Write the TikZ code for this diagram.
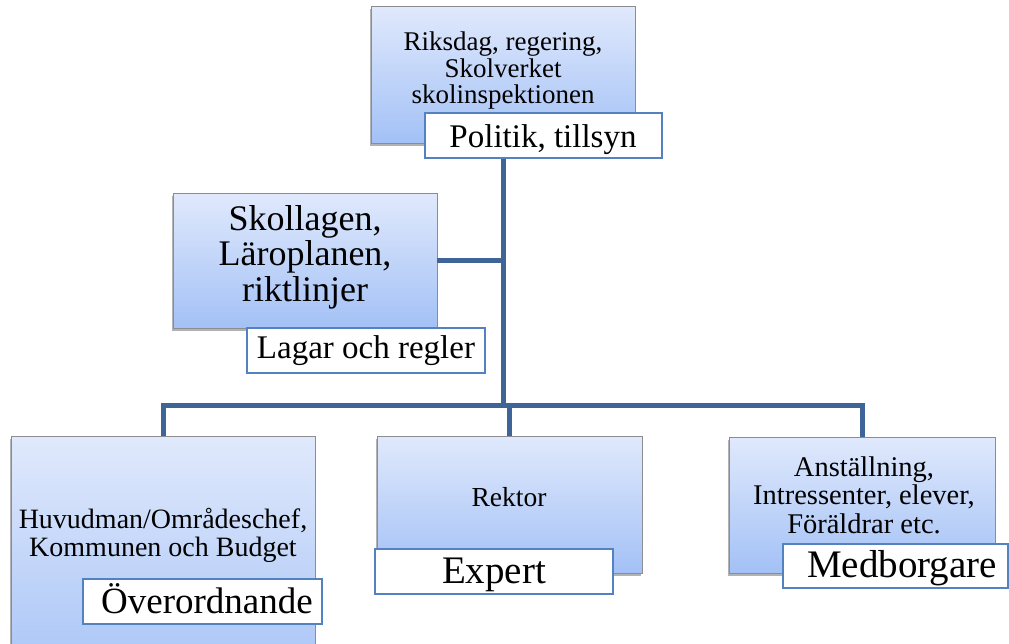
\documentclass[tikz,border=0pt]{standalone}
\usepackage{fontspec}
\setmainfont{Liberation Serif}
\usetikzlibrary{shadows}
\definecolor{boxtop}{RGB}{224,233,252}
\definecolor{boxbot}{RGB}{163,193,246}
\definecolor{boxline}{RGB}{140,140,145}
\definecolor{lblline}{RGB}{84,130,192}
\definecolor{conncol}{RGB}{62,100,152}
\tikzset{
  bluebox/.style={draw=boxline, line width=0.8pt, top color=boxtop, bottom color=boxbot,
    shading angle=0, rectangle, inner sep=0pt,
    drop shadow={shadow xshift=-1pt, shadow yshift=-3pt, fill=black, opacity=0.3}},
  lblbox/.style={draw=lblline, line width=1.1pt, fill=white, rectangle, inner sep=0pt},
  txt/.style={inner sep=0pt, align=center, text=black},
  conn/.style={draw=conncol, line width=5pt, line join=miter}
}
\begin{document}
\begin{tikzpicture}[x=1pt, y=-1pt]
\useasboundingbox (0,0) rectangle (1009,643);
\coordinate (J) at (503,405);
% boxes and labels
\node[bluebox, minimum width=264pt, minimum height=137pt] (top) at (503,74.5) {};
\node[lblbox, minimum width=237pt, minimum height=45pt] (pol) at (543.5,135.5) {};
\node[bluebox, minimum width=264pt, minimum height=135pt] (skol) at (305,260.5) {};
\node[lblbox, minimum width=238pt, minimum height=45pt] (lag) at (366,350.5) {};
\node[bluebox, minimum width=304pt, minimum height=264pt] (huv) at (163,568) {};
\node[lblbox, minimum width=239pt, minimum height=45pt] (ove) at (202.5,601.5) {};
\node[bluebox, minimum width=265pt, minimum height=137pt] (rek) at (509.5,504.5) {};
\node[lblbox, minimum width=238pt, minimum height=45pt] (exp) at (494,571.5) {};
\node[bluebox, minimum width=266pt, minimum height=136pt] (ans) at (862,505) {};
\node[lblbox, minimum width=225pt, minimum height=44pt] (med) at (895.5,566) {};
% connectors
\draw[conn] (pol.south -| top.south) -- (J);
\draw[conn] (skol.east) -- (skol.east -| J);
\draw[conn] (huv.north) |- (J) -| (ans.north);
\draw[conn] (rek.north) -- (rek.north |- J);
% texts
\node[txt, font=\fontsize{27}{26.5}\selectfont] (topT) at (503,71) {Riksdag, regering,\\Skolverket\\skolinspektionen};
\node[txt, font=\fontsize{33}{36}\selectfont, anchor=base] (polT) at (543,147) {Politik, tillsyn};
\node[txt, font=\fontsize{36}{35.5}\selectfont] (skolT) at (305,257) {Skollagen,\\Läroplanen,\\riktlinjer};
\node[txt, font=\fontsize{33}{36}\selectfont, anchor=base] (lagT) at (366,358) {Lagar och regler};
\node[txt, font=\fontsize{28}{28}\selectfont] (huvT) at (163,535) {Huvudman/Områdeschef,\\Kommunen och Budget};
\node[txt, font=\fontsize{37}{40}\selectfont, anchor=base] (oveT) at (207,613) {Överordnande};
\node[txt, font=\fontsize{27.5}{30}\selectfont, anchor=base] (rekT) at (509,506) {Rektor};
\node[txt, font=\fontsize{39}{42}\selectfont, anchor=base] (expT) at (494,583) {Expert};
\node[txt, font=\fontsize{28.5}{28.5}\selectfont] (ansT) at (864,495) {Anställning,\\Intressenter, elever,\\Föräldrar etc.};
\node[txt, font=\fontsize{39}{42}\selectfont, anchor=base] (medT) at (902,577) {Medborgare};
\end{tikzpicture}
\end{document}
